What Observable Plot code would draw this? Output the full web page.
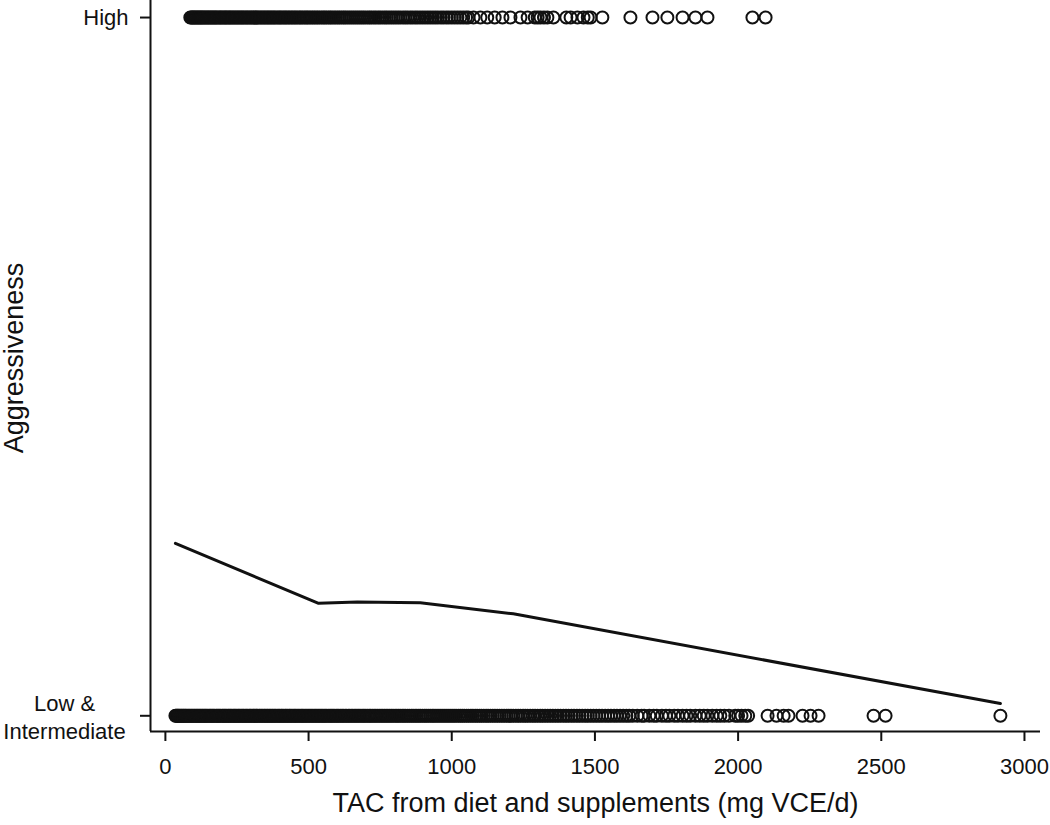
<!DOCTYPE html>
<html><head><meta charset="utf-8">
<script src="https://cdn.jsdelivr.net/npm/d3@7"></script>
<script src="https://cdn.jsdelivr.net/npm/@observablehq/plot@0.6"></script>
<style>body{margin:0;background:#fff}</style>
</head><body><div id="chart"></div>
<script>
// TAC values (mg VCE/d) of subjects with Low & Intermediate aggressiveness
const lowTAC = [35, 38, 41, 44, 47, 50, 54, 57, 61, 64, 68, 71, 75, 79, 83, 87, 91, 95, 99, 103, 107, 111, 115, 119, 123, 127, 131, 135, 139, 143, 147, 152, 156, 160, 164, 168, 172, 177, 181, 185, 189, 193, 198, 202, 206, 210, 214, 219, 223, 227, 231, 236, 240, 244, 248, 253, 257, 261, 266, 270, 274, 279, 283, 287, 292, 296, 300, 305, 309, 314, 318, 322, 327, 331, 336, 340, 345, 349, 354, 358, 363, 367, 372, 376, 381, 385, 390, 395, 399, 404, 408, 413, 418, 422, 427, 432, 436, 441, 446, 451, 455, 460, 465, 470, 475, 479, 484, 489, 494, 499, 504, 509, 514, 519, 524, 529, 534, 539, 544, 549, 554, 559, 564, 570, 575, 580, 585, 590, 596, 601, 606, 612, 617, 622, 628, 633, 639, 644, 650, 655, 661, 666, 672, 677, 683, 689, 694, 700, 706, 712, 717, 723, 729, 735, 741, 747, 753, 759, 765, 771, 777, 783, 789, 795, 802, 808, 814, 820, 827, 833, 839, 846, 852, 859, 865, 872, 878, 885, 891, 898, 905, 911, 918, 925, 932, 938, 945, 952, 959, 966, 973, 980, 987, 994, 1001, 1008, 1015, 1023, 1030, 1037, 1044, 1052, 1059, 1067, 1074, 1082, 1089, 1097, 1104, 1112, 1120, 1127, 1135, 1143, 1151, 1159, 1167, 1175, 1183, 1191, 1199, 1207, 1215, 1224, 1232, 1240, 1249, 1257, 1265, 1274, 1283, 1291, 1300, 1309, 1317, 1326, 1335, 1344, 1353, 1362, 1371, 1380, 1390, 1399, 1408, 1418, 1427, 1437, 1446, 1456, 1466, 1475, 1485, 1495, 1505, 1515, 1525, 1536, 1546, 1556, 1567, 1577, 1588, 1599, 1610, 1620, 1632, 1648, 1663, 1672, 1690, 1705, 1716, 1734, 1748, 1760, 1777, 1790, 1806, 1820, 1833, 1851, 1866, 1880, 1893, 1910, 1925, 1938, 1952, 1968, 1990, 2000, 2012, 2025, 2035, 2103, 2134, 2159, 2176, 2225, 2253, 2281, 2473, 2515, 2916];
// TAC values of subjects with High aggressiveness
const highTAC = [87, 90, 94, 97, 101, 104, 108, 112, 115, 119, 123, 126, 130, 134, 138, 142, 146, 150, 154, 158, 162, 166, 170, 174, 178, 182, 187, 191, 195, 199, 204, 208, 212, 216, 221, 225, 229, 234, 238, 243, 247, 252, 256, 261, 265, 270, 274, 279, 284, 288, 293, 298, 302, 307, 312, 317, 321, 326, 331, 336, 341, 346, 351, 356, 361, 366, 371, 376, 381, 386, 392, 397, 402, 407, 413, 418, 423, 429, 434, 440, 445, 451, 456, 462, 468, 473, 479, 485, 491, 496, 502, 508, 514, 520, 526, 532, 538, 545, 551, 557, 563, 570, 576, 582, 589, 595, 602, 608, 615, 622, 628, 635, 642, 649, 656, 663, 670, 677, 684, 691, 698, 706, 713, 720, 728, 735, 743, 750, 758, 766, 773, 781, 789, 797, 805, 813, 821, 830, 838, 846, 855, 863, 872, 880, 889, 898, 907, 916, 925, 934, 943, 952, 962, 971, 981, 990, 1000, 1010, 1020, 1030, 1040, 1050, 1058, 1076, 1100, 1124, 1150, 1177, 1205, 1240, 1265, 1290, 1300, 1310, 1322, 1334, 1355, 1400, 1415, 1439, 1460, 1475, 1485, 1526, 1624, 1701, 1753, 1806, 1851, 1893, 2050, 2096];
// fitted curve (probability of high aggressiveness)
const lineTAC = [35, 535, 670, 890, 1215, 2916];
const lineProb = [0.247, 0.161, 0.163, 0.162, 0.146, 0.0176];

const xTicks = [0, 500, 1000, 1500, 2000, 2500, 3000];
const yTicks = [0, 1];
const yTickLabels = ["Low &\nIntermediate", "High"];
const xDomain = [-52, 3056];
const yDomain = [-0.0225, 1.0244];
const xTitle = "TAC from diet and supplements (mg VCE/d)";
const yTitle = "Aggressiveness";

const points = [
  ...lowTAC.map(v => ({tac: v, aggr: yTicks[0]})),
  ...highTAC.map(v => ({tac: v, aggr: yTicks[1]}))
];
const fit = lineTAC.map((v, i) => ({tac: v, p: lineProb[i]}));

const ink = "#111";
const chart = Plot.plot({
  width: 1050, height: 825,
  marginTop: 0, marginLeft: 150, marginRight: 10, marginBottom: 94,
  style: {fontFamily: "'Liberation Sans', Arial, sans-serif", fontSize: "22px", color: ink, background: "#fff"},
  x: {domain: xDomain},
  y: {domain: yDomain},
  marks: [
    Plot.ruleX([xDomain[0]], {stroke: ink, strokeWidth: 2}),
    Plot.ruleY([yDomain[0]], {stroke: ink, strokeWidth: 2}),
    Plot.axisX({ticks: xTicks, tickSize: 10, tickPadding: 17, strokeWidth: 2, stroke: ink, fill: ink,
      tickFormat: d => String(d), fontSize: 22, label: null}),
    Plot.axisY({ticks: yTicks, tickSize: 10, tickPadding: 12, strokeWidth: 2, stroke: ink, fill: ink,
      tickFormat: d => d === yTicks[1] ? yTickLabels[1] : "", fontSize: 22, label: null}),
    Plot.text([{y: yTicks[0], t: yTickLabels[0]}], {y: "y", text: "t", frameAnchor: "left", dx: -86,
      textAnchor: "middle", lineHeight: 1.3, fontSize: 22, fill: ink}),
    Plot.text([xTitle], {text: d => d, frameAnchor: "bottom", dy: 80, textAnchor: "middle", fontSize: 27, fill: ink}),
    Plot.text([yTitle], {text: d => d, frameAnchor: "left", dx: -136, dy: -8, rotate: -90, textAnchor: "middle", fontSize: 27, fill: ink}),
    Plot.dot(points, {x: "tac", y: "aggr", r: 6, stroke: ink, strokeWidth: 2, fill: "none"}),
    Plot.line(fit, {x: "tac", y: "p", stroke: ink, strokeWidth: 3})
  ]
});
document.getElementById("chart").appendChild(chart);
</script>
</body></html>
